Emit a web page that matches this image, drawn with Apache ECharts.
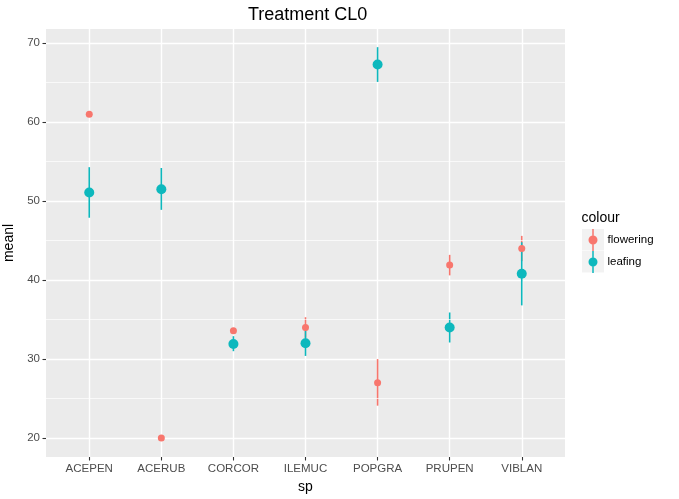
<!DOCTYPE html>
<html>
<head>
<meta charset="utf-8">
<script src="https://cdn.jsdelivr.net/npm/echarts@6/dist/echarts.min.js"></script>
<style>
  html, body { margin: 0; padding: 0; background: #fff; }
  #chart { width: 679px; height: 499px; }
</style>
</head>
<body>
<div id="chart"></div>
<script>
// species on the x axis
const species = ['ACEPEN', 'ACERUB', 'CORCOR', 'ILEMUC', 'POPGRA', 'PRUPEN', 'VIBLAN'];

// flowering: mean and error bar ends
const flowerMean = [61.0, 20.0, 33.6, 34.0, 27.0, 41.9, 44.0];
const flowerLow  = [61.0, 20.0, 33.6, 32.7, 24.1, 40.6, 42.4];
const flowerHigh = [61.0, 20.0, 33.6, 35.3, 30.0, 43.2, 45.6];

// leafing: mean and error bar ends
const leafMean = [51.1, 51.5, 31.9, 32.0, 67.3, 34.0, 40.8];
const leafLow  = [47.9, 48.9, 31.0, 30.4, 65.1, 32.1, 36.8];
const leafHigh = [54.3, 54.2, 32.9, 33.6, 69.5, 35.9, 44.8];

const yMajor = [20, 30, 40, 50, 60, 70];
const yMinor = [25, 35, 45, 55, 65];

const FONT = 'Liberation Sans, Arial, Helvetica, sans-serif';
const RED = '#F8766D';
const TEAL = '#0DB8BD';
const keyIcon = 'path://M3.75,0H5.25V22H3.75Z M4.5,6.5A4.5,4.5 0 1 1 4.5,15.5A4.5,4.5 0 1 1 4.5,6.5Z';

const chart = echarts.init(document.getElementById('chart'), null, { renderer: 'canvas' });

function barItem(color) {
    return function (params, api) {
        const lo = api.value(1), hi = api.value(2);
        if (lo === hi) return null;
        const p1 = api.coord([api.value(0), lo]);
        const p2 = api.coord([api.value(0), hi]);
        return {
            type: 'line',
            shape: { x1: p1[0], y1: p1[1], x2: p2[0], y2: p2[1] },
            style: { stroke: color, lineWidth: 1.6 }
        };
    };
}

const option = {
    animation: false,
    textStyle: { fontFamily: FONT },
    title: [{
        text: 'Treatment CL0',
        left: 248, top: 6, padding: 0,
        textStyle: { fontSize: 18, fontWeight: 'normal', color: '#000', fontFamily: FONT }
    }, {
        text: 'colour',
        left: 581.5, top: 211, padding: 0,
        textStyle: { fontSize: 14, fontWeight: 'normal', color: '#000', fontFamily: FONT }
    }],
    legend: {
        orient: 'vertical',
        left: 588.5, top: 229,
        padding: 0,
        itemWidth: 9, itemHeight: 22, itemGap: 0,
        textStyle: { fontSize: 11.5, color: '#000', padding: [0, 0, 0, 5], fontFamily: FONT },
        data: [{ name: 'flowering', icon: keyIcon }, { name: 'leafing', icon: keyIcon }]
    },
    graphic: [
        { type: 'rect', z: 1, shape: { x: 582, y: 229, width: 22, height: 21.5 }, style: { fill: '#F2F2F2' } },
        { type: 'rect', z: 1, shape: { x: 582, y: 251, width: 22, height: 21.5 }, style: { fill: '#F2F2F2' } }
    ],
    grid: {
        left: 46, right: 114, top: 29, bottom: 42,
        outerBoundsMode: 'none',
        show: true, backgroundColor: '#EBEBEB', borderWidth: 0
    },
    xAxis: {
        type: 'value', min: -0.6, max: 6.6,
        name: 'sp', nameLocation: 'middle', nameGap: 21,
        nameTextStyle: { fontSize: 14, color: '#000' },
        axisLine: { show: false, onZero: false },
        axisTick: { show: true, length: 3.5, lineStyle: { color: '#333', width: 1.1 }, customValues: species.map((s, i) => i) },
        axisLabel: { margin: 6, fontSize: 11.5, color: '#4D4D4D', customValues: species.map((s, i) => i),
                     formatter: v => species[Math.round(v)] },
        splitLine: { show: true, lineStyle: { color: '#fff', width: 1.4 } }
    },
    yAxis: [{
        type: 'value', min: 17.6, max: 71.8, position: 'left',
        name: 'meanl', nameLocation: 'middle', nameGap: 22,
        nameTextStyle: { fontSize: 14, color: '#000' },
        axisLine: { show: false, onZero: false },
        axisTick: { show: true, length: 3.5, lineStyle: { color: '#333', width: 1.1 }, customValues: yMajor },
        axisLabel: { margin: 6, fontSize: 11.5, color: '#4D4D4D', customValues: yMajor },
        splitLine: { show: true, lineStyle: { color: '#fff', width: 1.4 } }
    }],
    series: [{
        // thin minor grid lines at the half-decades
        name: 'minor', type: 'line', data: [], silent: true,
        markLine: {
            silent: true, symbol: 'none', label: { show: false },
            lineStyle: { color: '#fff', width: 0.7, type: 'solid' },
            data: yMinor.map(v => ({ yAxis: v }))
        },
        z: 0
    }, {
        name: 'flowering', type: 'custom',
        itemStyle: { color: RED },
        renderItem: barItem(RED),
        data: species.map((s, i) => [i, flowerLow[i], flowerHigh[i]])
    }, {
        name: 'flowering', type: 'scatter',
        symbolSize: 7,
        itemStyle: { color: RED, opacity: 1 },
        data: species.map((s, i) => [i, flowerMean[i]])
    }, {
        name: 'leafing', type: 'custom',
        itemStyle: { color: TEAL },
        renderItem: barItem(TEAL),
        data: species.map((s, i) => [i, leafLow[i], leafHigh[i]])
    }, {
        name: 'leafing', type: 'scatter',
        symbolSize: 10,
        itemStyle: { color: TEAL, opacity: 1 },
        data: species.map((s, i) => [i, leafMean[i]])
    }]
};

chart.setOption(option);
</script>
</body>
</html>
